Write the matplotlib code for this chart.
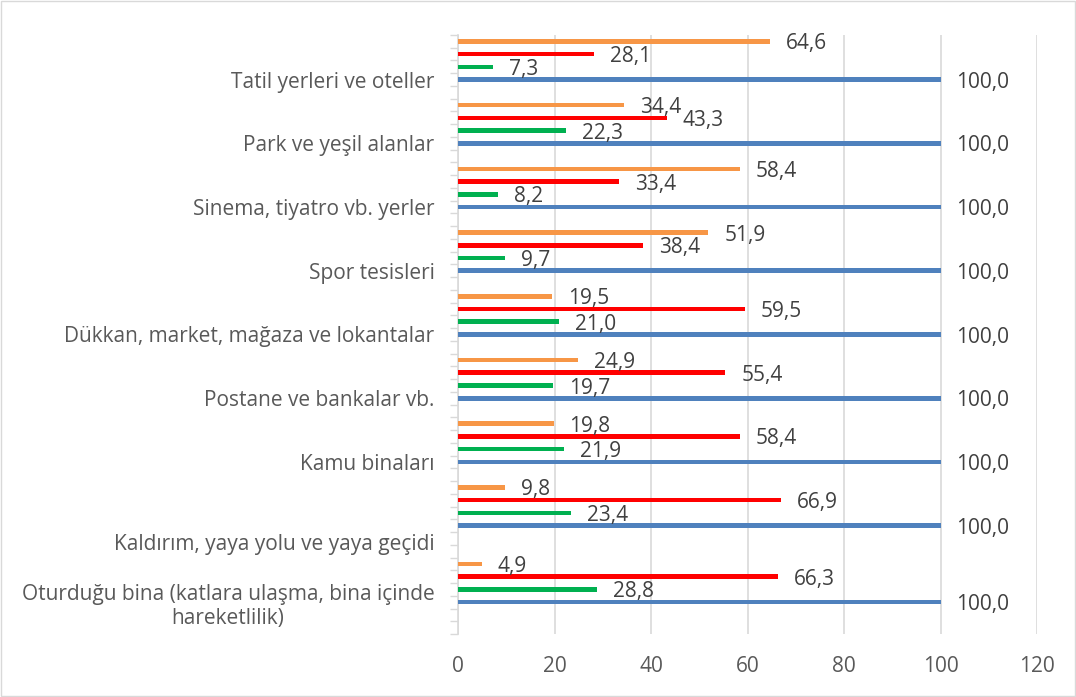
import numpy as np
import matplotlib
matplotlib.use('Agg')
import matplotlib.pyplot as plt
from matplotlib.patches import Rectangle

plt.rcParams['font.family'] = ['Open Sans', 'DejaVu Sans']

## categories from top to bottom
categories = ['Tatil yerleri ve oteller',
              'Park ve yeşil alanlar',
              'Sinema, tiyatro vb. yerler',
              'Spor tesisleri',
              'Dükkan, market, mağaza ve lokantalar',
              'Postane ve bankalar vb.',
              'Kamu binaları',
              'Kaldırım, yaya yolu ve yaya geçidi',
              'Oturduğu bina (katlara ulaşma, bina içinde\nhareketlilik)']
total  = [100.0, 100.0, 100.0, 100.0, 100.0, 100.0, 100.0, 100.0, 100.0]
green  = [7.3, 22.3, 8.2, 9.7, 21.0, 19.7, 21.9, 23.4, 28.8]
red    = [28.1, 43.3, 33.4, 38.4, 59.5, 55.4, 58.4, 66.9, 66.3]
orange = [64.6, 34.4, 58.4, 51.9, 19.5, 24.9, 19.8, 9.8, 4.9]
xticks = [0, 20, 40, 60, 80, 100, 120]

# Excel-like slot layout: 4 bars + blank per group, one extra blank before the last group
starts = np.array([0, 5, 10, 15, 20, 25, 30, 35, 41])
n_slots = 47
label_pos = starts + 3.5
label_pos[7] = 39.8

fig = plt.figure(figsize=(10.76, 6.97), dpi=100)
ax = fig.add_axes([0.4257, 0.0904, 0.5381, 0.8594])

series = [(orange, '#F79646', 0.5), (red, '#FF0000', 1.5),
          (green, '#00B050', 2.5), (total, '#4F81BD', 3.5)]
for vals, col, off in series:
    ys = starts + off
    ax.barh(ys, vals, height=0.36, color=col, zorder=3)
    for y, v in zip(ys, vals):
        ax.text(v + 3.3, y + 0.2, f'{v:.1f}'.replace('.', ','), ha='left', va='center',
                fontsize=15, color='#404040', zorder=4)

ax.set_xlim(0, 120)
ax.set_ylim(n_slots, 0)
ax.set_xticks(xticks)
ax.set_xticklabels([str(t) for t in xticks])
ax.grid(axis='x', color='#D9D9D9', linewidth=1.2, zorder=0)
ax.set_yticks(label_pos)
ax.set_yticklabels(categories, multialignment='center')
ax.set_yticks(np.arange(0, n_slots + 1), minor=True)
ax.tick_params(axis='y', which='major', length=0, pad=17, labelsize=15, labelcolor='#595959')
ax.tick_params(axis='y', which='minor', length=6, width=1, color='#D9D9D9', direction='out')
ax.tick_params(axis='x', length=0, pad=16, labelsize=15, labelcolor='#595959')
for s in ['top', 'right', 'bottom']:
    ax.spines[s].set_visible(False)
ax.spines['left'].set_color('#D9D9D9')
ax.spines['left'].set_linewidth(1.2)

fig.patches.append(Rectangle((0.001, 0.001), 0.998, 0.998, transform=fig.transFigure,
                             fill=False, edgecolor='#D9D9D9', linewidth=1))

plt.savefig('out.png', dpi=100)
